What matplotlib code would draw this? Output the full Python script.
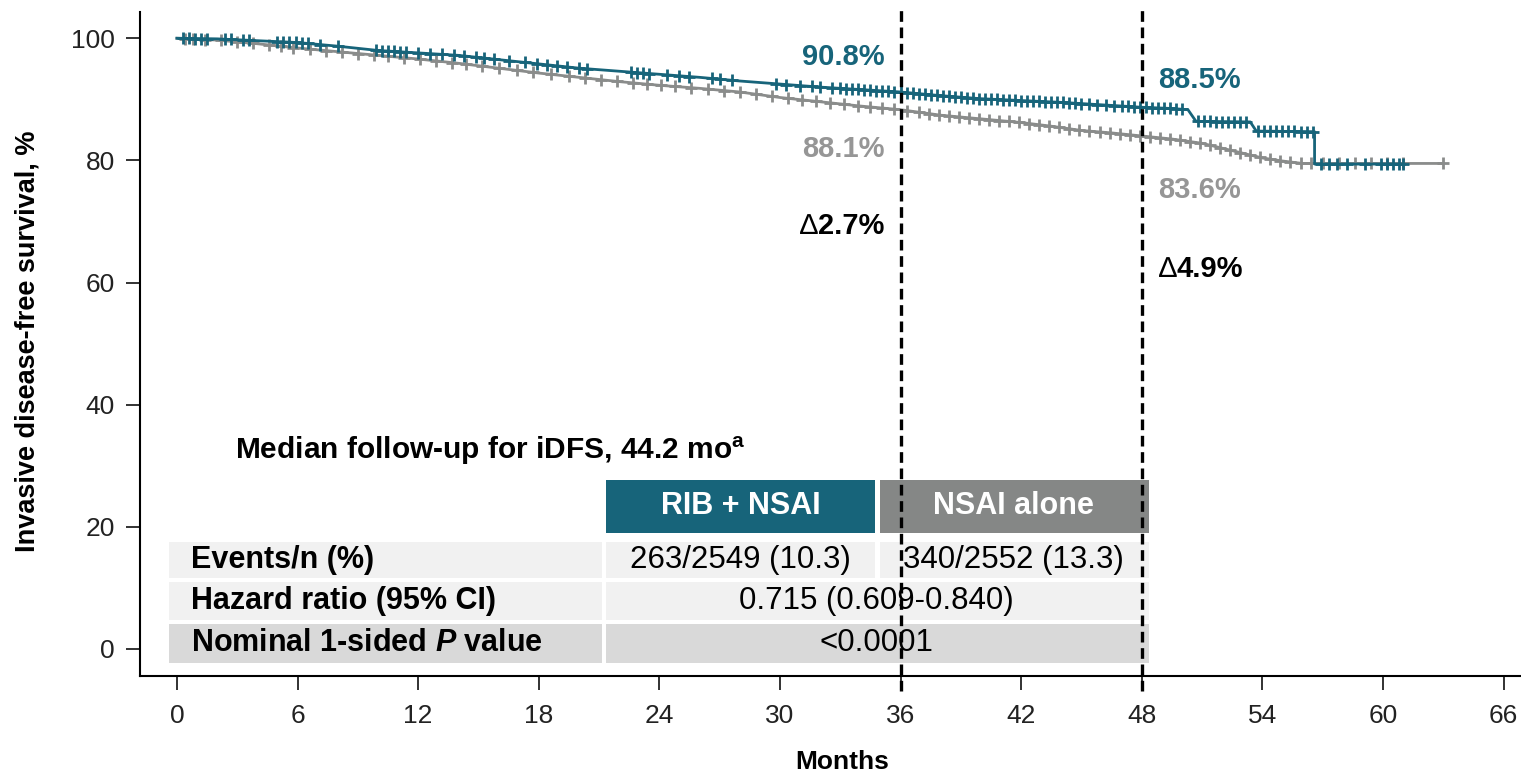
import matplotlib
matplotlib.use("Agg")
import numpy as np
import matplotlib.pyplot as plt
from matplotlib.patches import Rectangle

# ---- data ----
# RIB + NSAI arm (survival %), repeated times mark the visible drops
rib_time = [0, 2, 4, 6, 8, 10, 12, 14, 16, 18, 20, 22, 24, 26, 28, 30, 32, 34, 36,
            38, 40, 42, 44, 46, 48, 49.5, 50.3, 50.7, 53.4, 53.7, 56.6, 56.6, 61.0]
rib_surv = [100, 99.9, 99.6, 99.3, 98.7, 98.0, 97.6, 97.2, 96.5, 95.8, 95.1, 94.6, 94.1,
            93.6, 93.0, 92.5, 92.0, 91.6, 91.2, 90.6, 90.1, 89.8, 89.5, 89.1, 88.7, 88.5,
            88.3, 86.4, 86.3, 84.8, 84.7, 79.4, 79.4]
rib_censor = [0.3, 0.6, 0.9, 1.2, 1.5, 2.4, 2.7, 3.3, 3.6, 5.0, 5.3, 5.6, 5.9, 6.2, 6.5,
              7.1, 8.0, 9.9, 10.2, 10.5, 10.8, 11.1, 11.4, 12.0, 12.6, 13.2, 13.8, 14.3,
              14.9, 15.3, 15.8, 16.5, 17.3, 17.9, 18.4, 18.9, 19.4, 20.0, 20.4, 22.6,
              22.9, 23.2, 23.5, 24.4, 25.0, 25.5, 26.6, 27.0, 27.6, 29.8, 30.3, 31.0,
              31.6, 32.0, 32.6, 33.0, 33.3, 33.6, 33.9, 34.2, 34.5, 34.8, 35.1, 35.4,
              35.7, 36.0, 36.3, 36.6, 36.9, 37.2, 37.5, 37.8, 38.1, 38.4, 38.7, 39.0,
              39.3, 39.6, 39.9, 40.2, 40.5, 40.8, 41.1, 41.4, 41.7, 42.0, 42.3, 42.6,
              42.9, 43.2, 43.5, 43.8, 44.1, 44.4, 44.7, 45.0, 45.4, 45.8, 46.2, 46.6,
              47.0, 47.3, 47.6, 47.9, 48.2, 48.5, 48.8, 49.1, 49.4, 49.7, 50.0, 50.8,
              51.1, 51.4, 51.7, 52.0, 52.3, 52.6, 52.9, 53.2, 53.8, 54.1, 54.4, 54.7,
              55.0, 55.3, 55.6, 55.9, 56.2, 56.5, 56.9, 57.3, 57.7, 58.2, 59.1, 59.9,
              60.2, 60.5, 60.8, 61.0]

# NSAI alone arm
nsai_time = [0, 2, 4, 6, 8, 10, 12, 14, 16, 18, 20, 22, 24, 26, 28, 30, 32, 34, 36,
             38, 40, 42, 43.5, 45, 46.5, 48, 49.5, 51, 52, 53, 54, 55, 56, 63.0]
nsai_surv = [100, 99.7, 99.1, 98.4, 97.8, 97.2, 96.6, 95.9, 95.1, 94.3, 93.6, 92.9,
             92.3, 91.8, 91.2, 90.3, 89.6, 88.9, 88.3, 87.4, 86.8, 86.2, 85.6, 84.9,
             84.5, 84.0, 83.5, 82.8, 82.0, 81.2, 80.4, 79.9, 79.5, 79.5]
nsai_censor = [0.4, 0.8, 1.4, 2.2, 3.0, 3.8, 4.6, 5.2, 5.8, 6.6, 7.4, 8.2, 9.0, 9.8,
               10.5, 11.3, 12.1, 12.9, 13.7, 14.4, 15.2, 16.0, 16.9, 17.7, 18.6, 19.5,
               20.3, 21.1, 21.9, 22.7, 23.4, 24.1, 24.8, 25.6, 26.4, 27.2, 28.0, 28.8,
               29.6, 30.4, 31.1, 31.8, 32.5, 33.2, 33.9, 34.5, 35.1, 35.7, 36.3, 36.9,
               37.4, 37.9, 38.4, 38.9, 39.4, 39.9, 40.4, 40.9, 41.4, 41.9, 42.4, 42.9,
               43.4, 43.9, 44.4, 44.9, 45.4, 45.9, 46.4, 46.9, 47.4, 47.9, 48.4, 48.9,
               49.4, 49.9, 50.4, 50.9, 51.4, 51.9, 52.4, 52.9, 53.4, 53.9, 54.4, 54.9,
               55.4, 55.9, 56.4, 57.0, 57.8, 58.6, 59.4, 60.2, 61.0, 63.0]

landmarks = [36, 48]
rib_landmark = ["90.8%", "88.5%"]
nsai_landmark = ["88.1%", "83.6%"]
delta_landmark = ["2.7%", "4.9%"]

# summary table
follow_up = "Median follow-up for iDFS, 44.2 mo$^{\\mathrm{a}}$"
arm_names = ["RIB + NSAI", "NSAI alone"]
row_labels = ["Events/n (%)", "Hazard ratio (95% CI)", "Nominal 1-sided $\\mathit{P}$ value"]
events = ["263/2549 (10.3)", "340/2552 (13.3)"]
hazard = "0.715 (0.609-0.840)"
p_value = "<0.0001"

# ---- styling ----
teal = "#17647a"
grey = "#8a8c8b"
grey_text = "#969696"
pct_size = 21

plt.rcParams["font.family"] = ["Liberation Sans", "DejaVu Sans"]
plt.rcParams["mathtext.fontset"] = "custom"
plt.rcParams["mathtext.rm"] = "Liberation Sans:bold"
plt.rcParams["mathtext.it"] = "Liberation Sans:italic:bold"

fig = plt.figure(figsize=(15.21, 7.73), dpi=100)
ax = fig.add_axes([0.092, 0.1255, 0.908, 0.859])

# curves: grey under teal, censor ticks placed on the curve
for times, surv, cens, col in [(nsai_time, nsai_surv, nsai_censor, grey),
                               (rib_time, rib_surv, rib_censor, teal)]:
    ax.plot(times, surv, color=col, lw=2.0, zorder=3)
    ax.plot(cens, np.interp(cens, times, surv), ls="none", marker="+", ms=8,
            mew=2.0, color=col, zorder=3)

# landmark dashed lines
for lm in landmarks:
    ax.plot([lm, lm], [-6.8, 105.5], color="black", lw=2.4,
            ls=(0, (3.2, 1.7)), zorder=6, clip_on=False)

# landmark percentages
ax.text(35.2, 95.6, rib_landmark[0], color=teal, ha="right", va="baseline",
        fontsize=pct_size, fontweight="bold")
ax.text(35.2, 80.5, nsai_landmark[0], color=grey_text, ha="right", va="baseline",
        fontsize=pct_size, fontweight="bold")
# delta drawn as a light triangle in front of the bold number
t = ax.text(35.2, 67.9, delta_landmark[0], color="black", ha="right", va="baseline",
            fontsize=pct_size, fontweight="bold")
ax.annotate("\u2206", xy=(0, 0), xycoords=t, ha="right", va="bottom",
            fontsize=pct_size, fontweight="normal", color="black")
t = ax.text(49.75, 60.9, delta_landmark[1], color="black", ha="left", va="baseline",
            fontsize=pct_size, fontweight="bold")
ax.annotate("\u2206", xy=(0, 0), xycoords=t, ha="right", va="bottom",
            fontsize=pct_size, fontweight="normal", color="black")
ax.text(48.8, 91.8, rib_landmark[1], color=teal, ha="left", va="baseline",
        fontsize=pct_size, fontweight="bold")
ax.text(48.8, 73.8, nsai_landmark[1], color=grey_text, ha="left", va="baseline",
        fontsize=pct_size, fontweight="bold")

# ---- table (layout in data units) ----
x0, xa, xb, x1 = -0.4, 21.25, 34.85, 48.35
gap = 0.12
ax.text(2.9, 31.1, follow_up, fontsize=21.5, fontweight="bold", va="baseline")

head_y0, head_y1 = 19.0, 27.7
ax.add_patch(Rectangle((xa + gap, head_y0), xb - xa - 2 * gap, head_y1 - head_y0,
                       color=teal, lw=0, zorder=2))
ax.add_patch(Rectangle((xb + gap, head_y0), x1 - xb - gap, head_y1 - head_y0,
                       color="#858786", lw=0, zorder=2))
ax.text((xa + xb) / 2, (head_y0 + head_y1) / 2, arm_names[0], color="white",
        ha="center", va="center", fontsize=22, fontweight="bold", zorder=3)
ax.text((xb + x1) / 2, (head_y0 + head_y1) / 2, arm_names[1], color="white",
        ha="center", va="center", fontsize=22, fontweight="bold", zorder=3)

rows_y = [(11.6, 17.5), (4.75, 11.0), (-2.3, 4.1)]
row_cols = ["#f1f1f1", "#f1f1f1", "#d9d9d9"]
for i, ((ya, yb), rc) in enumerate(zip(rows_y, row_cols)):
    ax.add_patch(Rectangle((x0, ya), xa - x0 - gap, yb - ya, color=rc, lw=0, zorder=2))
    if i == 0:
        ax.add_patch(Rectangle((xa + gap, ya), xb - xa - 2 * gap, yb - ya,
                               color=rc, lw=0, zorder=2))
        ax.add_patch(Rectangle((xb + gap, ya), x1 - xb - gap, yb - ya,
                               color=rc, lw=0, zorder=2))
    else:
        ax.add_patch(Rectangle((xa + gap, ya), x1 - xa - gap, yb - ya,
                               color=rc, lw=0, zorder=2))
    ax.text(0.7, (ya + yb) / 2, row_labels[i], ha="left", va="center",
            fontsize=22, fontweight="bold", zorder=3)

ym = (rows_y[0][0] + rows_y[0][1]) / 2
ax.text((xa + xb) / 2, ym, events[0], ha="center", va="center", fontsize=22.5, zorder=3)
ax.text((xb + x1) / 2, ym, events[1], ha="center", va="center", fontsize=22.5, zorder=3)
ax.text((xa + x1) / 2, sum(rows_y[1]) / 2, hazard, ha="center", va="center",
        fontsize=22.5, zorder=3)
ax.text((xa + x1) / 2, sum(rows_y[2]) / 2, p_value, ha="center", va="center",
        fontsize=22.5, zorder=3)

# ---- axes ----
ax.set_xlim(-1.84, 66.87)
ax.set_ylim(-4.42, 104.3)
ax.set_xticks(range(0, 67, 6))
ax.set_yticks(range(0, 101, 20))
ax.spines["top"].set_visible(False)
ax.spines["right"].set_visible(False)
for s in ["left", "bottom"]:
    ax.spines[s].set_linewidth(1.5)
ax.tick_params(length=10, width=1.3, labelsize=19, colors="#222222")
ax.tick_params(axis="x", pad=10)
ax.tick_params(axis="y", pad=8)

fig.text(842 / 1521, 1 - 762 / 773, "Months", ha="center", va="center",
         fontsize=19, fontweight="bold")
fig.text(28 / 1521, 1 - 341 / 773, "Invasive disease-free survival, %", rotation=90,
         ha="center", va="center", fontsize=19.5, fontweight="bold")

fig.savefig("out.png", dpi=100)
